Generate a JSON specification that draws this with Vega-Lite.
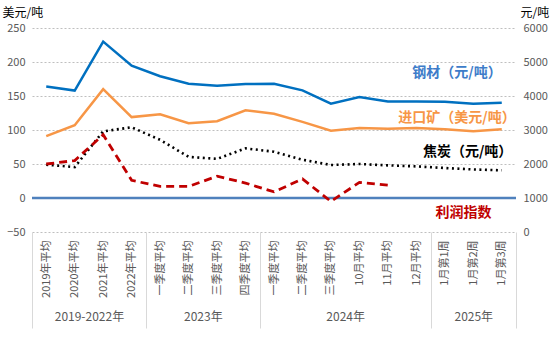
{
  "$schema": "https://vega.github.io/schema/vega-lite/v6.json",
  "width": 484,
  "height": 204,
  "autosize": {"type": "none"},
  "padding": {"left": 32, "top": 28, "right": 39, "bottom": 127},
  "background": "white",
  "config": {
    "font": "Noto Sans CJK SC",
    "view": {"stroke": null},
    "axis": {"labelColor": "#595959", "labelFont": "Noto Sans CJK SC", "titleFont": "Noto Sans CJK SC"}
  },
  "data": {
    "values": [
      {"i": 0, "cat": "2019年平均", "steel": 4280, "ore": 91, "coke": 1980, "profit": 50},
      {"i": 1, "cat": "2020年平均", "steel": 4160, "ore": 107, "coke": 1910, "profit": 55},
      {"i": 2, "cat": "2021年平均", "steel": 5600, "ore": 160, "coke": 2960, "profit": 93},
      {"i": 3, "cat": "2022年平均", "steel": 4890, "ore": 119, "coke": 3080, "profit": 26},
      {"i": 4, "cat": "一季度平均", "steel": 4580, "ore": 123, "coke": 2710, "profit": 17},
      {"i": 5, "cat": "二季度平均", "steel": 4360, "ore": 110, "coke": 2210, "profit": 17},
      {"i": 6, "cat": "三季度平均", "steel": 4300, "ore": 113, "coke": 2150, "profit": 32},
      {"i": 7, "cat": "四季度平均", "steel": 4350, "ore": 129, "coke": 2460, "profit": 22},
      {"i": 8, "cat": "一季度平均", "steel": 4360, "ore": 124, "coke": 2360, "profit": 9},
      {"i": 9, "cat": "二季度平均", "steel": 4165, "ore": 112, "coke": 2126, "profit": 28},
      {"i": 10, "cat": "三季度平均", "steel": 3775, "ore": 99, "coke": 1970, "profit": -5},
      {"i": 11, "cat": "10月平均", "steel": 3970, "ore": 103, "coke": 2000, "profit": 23},
      {"i": 12, "cat": "11月平均", "steel": 3840, "ore": 102, "coke": 1960, "profit": 19},
      {"i": 13, "cat": "12月平均", "steel": 3840, "ore": 103, "coke": 1930, "profit": null},
      {"i": 14, "cat": "1月第1周", "steel": 3830, "ore": 101, "coke": 1882, "profit": null},
      {"i": 15, "cat": "1月第2周", "steel": 3770, "ore": 98, "coke": 1840, "profit": null},
      {"i": 16, "cat": "1月第3周", "steel": 3800, "ore": 101, "coke": 1815, "profit": null}
    ]
  },
  "layer": [
    {
      "data": {"values": [{}]},
      "mark": {"type": "rule", "color": "#4F81BD", "strokeWidth": 2.4},
      "encoding": {
        "y": {"datum": 0, "type": "quantitative", "scale": {"domain": [-50, 250], "nice": false, "zero": false}, "axis": null}
      }
    },
    {
      "mark": {"type": "line", "color": "#F79646", "strokeWidth": 2.5},
      "encoding": {
        "x": {"field": "i", "type": "quantitative", "scale": {"domain": [-0.5, 16.5], "nice": false, "zero": false},
          "axis": {"orient": "bottom", "values": [0,1,2,3,4,5,6,7,8,9,10,11,12,13,14,15,16],
            "labelExpr": "['2019年平均','2020年平均','2021年平均','2022年平均','一季度平均','二季度平均','三季度平均','四季度平均','一季度平均','二季度平均','三季度平均','10月平均','11月平均','12月平均','1月第1周','1月第2周','1月第3周'][datum.value]",
            "labelAngle": -90, "ticks": false, "domain": false, "grid": false, "labelPadding": 8, "labelFontSize": 11,
            "labelOverlap": false, "labelFlush": false, "labelBound": false, "title": null}},
        "y": {"field": "ore", "type": "quantitative", "scale": {"domain": [-50, 250], "nice": false, "zero": false},
          "axis": {"orient": "left", "values": [-50, 0, 50, 100, 150, 200, 250], "grid": true, "gridDash": [2, 2], "gridColor": "#BFBFBF",
            "ticks": false, "domain": false, "labelPadding": 7, "labelFontSize": 11,
            "title": "美元/吨", "titleAngle": 0, "titleX": -30, "titleY": -16, "titleAlign": "left", "titleBaseline": "middle",
            "titleFontSize": 12, "titleFontWeight": "normal", "titleColor": "#000000"}}
      }
    },
    {
      "mark": {"type": "line", "color": "#0070C0", "strokeWidth": 2.5},
      "encoding": {
        "x": {"field": "i", "type": "quantitative", "scale": {"domain": [-0.5, 16.5], "nice": false, "zero": false},
          "axis": {"orient": "bottom", "values": [-0.5, 3.5, 7.5, 13.5, 16.5], "ticks": true, "tickSize": 96, "tickColor": "#D9D9D9", "tickWidth": 1,
            "labels": false, "domain": false, "grid": false, "title": null}},
        "y": {"field": "steel", "type": "quantitative", "scale": {"domain": [0, 6000], "nice": false, "zero": false},
          "axis": {"orient": "right", "values": [0, 1000, 2000, 3000, 4000, 5000, 6000], "format": "d", "grid": false,
            "ticks": false, "domain": false, "labelPadding": 7, "labelFontSize": 11,
            "title": "元/吨", "titleAngle": 0, "titleX": 4, "titleY": -16, "titleAlign": "left", "titleBaseline": "middle",
            "titleFontSize": 12, "titleFontWeight": "normal", "titleColor": "#000000"}}
      }
    },
    {
      "mark": {"type": "line", "color": "#000000", "strokeWidth": 2.6, "strokeDash": [2, 3.5]},
      "encoding": {
        "x": {"field": "i", "type": "quantitative", "scale": {"domain": [-0.5, 16.5], "nice": false, "zero": false}, "axis": null},
        "y": {"field": "coke", "type": "quantitative", "scale": {"domain": [0, 6000], "nice": false, "zero": false}, "axis": null}
      }
    },
    {
      "mark": {"type": "line", "color": "#C00000", "strokeWidth": 2.8, "strokeDash": [8, 5]},
      "encoding": {
        "x": {"field": "i", "type": "quantitative", "scale": {"domain": [-0.5, 16.5], "nice": false, "zero": false},
          "axis": {"orient": "bottom", "values": [1.5, 5.5, 10.5, 15],
            "labelExpr": "datum.value < 3 ? '2019-2022年' : datum.value < 7 ? '2023年' : datum.value < 13 ? '2024年' : '2025年'",
            "labelAngle": 0, "labelPadding": 79, "ticks": false, "domain": false, "grid": false, "labelFontSize": 12,
            "labelOverlap": false, "labelFlush": false, "labelBound": false, "title": null}},
        "y": {"field": "profit", "type": "quantitative", "scale": {"domain": [-50, 250], "nice": false, "zero": false}, "axis": null}
      }
    },
    {
      "data": {"values": [{}]},
      "mark": {"type": "text", "text": "钢材（元/吨）", "fontSize": 14, "fontWeight": "bold", "color": "#3D7CC9"},
      "encoding": {
        "x": {"datum": 14.43, "type": "quantitative", "scale": {"domain": [-0.5, 16.5], "nice": false, "zero": false}, "axis": null},
        "y": {"datum": 184, "type": "quantitative", "scale": {"domain": [-50, 250], "nice": false, "zero": false}, "axis": null}
      }
    },
    {
      "data": {"values": [{}]},
      "mark": {"type": "text", "text": "进口矿（美元/吨）", "fontSize": 14, "fontWeight": "bold", "color": "#F79646"},
      "encoding": {
        "x": {"datum": 14.43, "type": "quantitative", "scale": {"domain": [-0.5, 16.5], "nice": false, "zero": false}, "axis": null},
        "y": {"datum": 117.6, "type": "quantitative", "scale": {"domain": [-50, 250], "nice": false, "zero": false}, "axis": null}
      }
    },
    {
      "data": {"values": [{}]},
      "mark": {"type": "text", "text": "焦炭（元/吨）", "fontSize": 14, "fontWeight": "bold", "color": "#000000"},
      "encoding": {
        "x": {"datum": 14.8, "type": "quantitative", "scale": {"domain": [-0.5, 16.5], "nice": false, "zero": false}, "axis": null},
        "y": {"datum": 67.6, "type": "quantitative", "scale": {"domain": [-50, 250], "nice": false, "zero": false}, "axis": null}
      }
    },
    {
      "data": {"values": [{}]},
      "mark": {"type": "text", "text": "利润指数", "fontSize": 14, "fontWeight": "bold", "color": "#C00000"},
      "encoding": {
        "x": {"datum": 14.66, "type": "quantitative", "scale": {"domain": [-0.5, 16.5], "nice": false, "zero": false}, "axis": null},
        "y": {"datum": -22.1, "type": "quantitative", "scale": {"domain": [-50, 250], "nice": false, "zero": false}, "axis": null}
      }
    }
  ],
  "resolve": {"scale": {"y": "independent"}, "axis": {"x": "independent", "y": "independent"}}
}
